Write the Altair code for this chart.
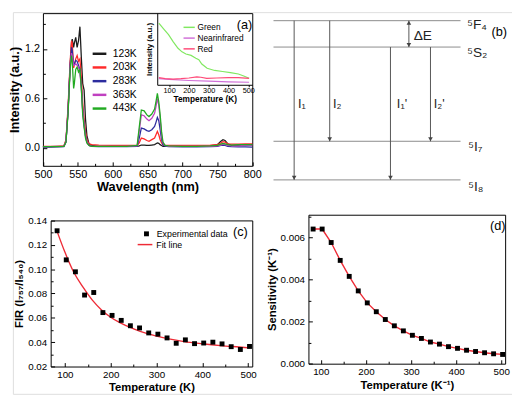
import altair as alt
import pandas as pd

W, H = 510, 390
FONT = "Liberation Sans"

# ---------------- panel (a): emission spectra ----------------
wavelength = [500, 510, 520, 530, 533, 536, 539, 541, 542, 544, 545, 547, 549, 551,
              553, 555, 557, 559, 561, 563, 566, 570, 580, 600, 620, 635, 638, 641,
              645, 649, 652, 656, 660, 662, 664, 666, 668, 670, 672, 675, 680, 700,
              720, 740, 750, 755, 758, 761, 765, 770, 780, 790, 800]
spec_123K = [0.015, 0.015, 0.02, 0.02, 0.08, 0.45, 1.00, 1.28, 1.32, 1.22, 1.27, 1.34, 1.22, 1.30,
             1.47, 1.10, 0.78, 0.70, 0.35, 0.15, 0.05, 0.03, 0.02, 0.02, 0.02, 0.02, 0.025, 0.035,
             0.035, 0.03, 0.03, 0.035, 0.04, 0.05, 0.06, 0.055, 0.04, 0.03, 0.02, 0.02, 0.02, 0.02,
             0.02, 0.025, 0.04, 0.08, 0.10, 0.09, 0.05, 0.03, 0.03, 0.03, 0.03]
spec_203K = [0.02, 0.02, 0.02, 0.025, 0.10, 0.50, 1.05, 1.30, 1.27, 0.97, 1.00, 1.08, 1.12, 1.05,
             1.08, 0.86, 0.55, 0.35, 0.20, 0.10, 0.05, 0.04, 0.035, 0.03, 0.03, 0.03, 0.06, 0.12,
             0.11, 0.09, 0.08, 0.10, 0.12, 0.16, 0.20, 0.16, 0.10, 0.06, 0.04, 0.03, 0.03, 0.03,
             0.03, 0.035, 0.04, 0.06, 0.075, 0.07, 0.05, 0.045, 0.045, 0.05, 0.05]
spec_283K = [0.01, 0.01, 0.012, 0.015, 0.07, 0.45, 1.00, 1.22, 1.18, 1.00, 1.02, 1.06, 1.05, 1.00,
             0.95, 0.75, 0.45, 0.28, 0.15, 0.07, 0.03, 0.02, 0.015, 0.015, 0.015, 0.02, 0.12, 0.24,
             0.23, 0.21, 0.20, 0.22, 0.26, 0.31, 0.37, 0.33, 0.22, 0.10, 0.04, 0.02, 0.015, 0.012,
             0.012, 0.015, 0.02, 0.03, 0.035, 0.03, 0.02, 0.015, 0.012, 0.012, 0.01]
spec_363K = [0.015, 0.015, 0.015, 0.02, 0.08, 0.45, 0.98, 1.15, 1.12, 1.00, 1.00, 1.02, 1.00, 0.98,
             0.92, 0.72, 0.45, 0.27, 0.14, 0.07, 0.03, 0.02, 0.02, 0.02, 0.02, 0.025, 0.20, 0.40,
             0.39, 0.35, 0.33, 0.36, 0.42, 0.50, 0.60, 0.52, 0.35, 0.15, 0.06, 0.03, 0.02, 0.02,
             0.02, 0.02, 0.025, 0.035, 0.045, 0.04, 0.03, 0.025, 0.025, 0.03, 0.03]
spec_443K = [0.015, 0.015, 0.015, 0.02, 0.07, 0.42, 0.95, 1.12, 1.05, 0.72, 0.78, 0.95, 0.98, 0.92,
             0.95, 0.72, 0.40, 0.25, 0.12, 0.06, 0.03, 0.02, 0.02, 0.02, 0.02, 0.03, 0.25, 0.46,
             0.45, 0.40, 0.38, 0.41, 0.47, 0.56, 0.66, 0.56, 0.40, 0.20, 0.07, 0.03, 0.025, 0.02,
             0.02, 0.025, 0.03, 0.045, 0.055, 0.05, 0.04, 0.035, 0.04, 0.04, 0.04]
series_names = ["123K", "203K", "283K", "363K", "443K"]
series_colors = ["#1c1c1c", "#ff2a2a", "#2c2c9e", "#c040c0", "#22aa22"]

# inset of panel (a)
inset_names = ["Green", "Nearinfrared", "Red"]
inset_colors = ["#80e860", "#d070d8", "#ff4a78"]
green_T = [48, 72, 97, 121, 145, 165, 185, 211, 235, 250, 265, 292, 330, 370, 410, 450, 480, 504]
green_I = [0.86, 0.78, 0.70, 0.60, 0.51, 0.46, 0.43, 0.41, 0.37, 0.35, 0.29, 0.23, 0.20, 0.185,
           0.17, 0.15, 0.12, 0.09]
nir_T = [48, 100, 200, 300, 400, 504]
nir_I = [0.085, 0.075, 0.06, 0.05, 0.04, 0.035]
red_T = [48, 80, 120, 160, 200, 240, 260, 290, 340, 400, 450, 504]
red_I = [0.10, 0.085, 0.08, 0.085, 0.095, 0.11, 0.105, 0.09, 0.095, 0.10, 0.10, 0.09]

# ---------------- panel (b): energy level diagram ----------------
level_names = ["\u2075F\u2084", "\u2075S\u2082", "\u2075I\u2087", "\u2075I\u2088"]
level_energy = [169, 141, 41, 0]
level_start = [0, 0, 0, 0]
level_end = [193, 193, 193, 193]
level_label_x = [200, 200, 201, 201]
level_label_E = [164, 135, 35, -8]
arrow_names = ["I\u2081", "I\u2082", "I\u2081'", "I\u2082'"]
arrow_x = [21.3, 58, 120.7, 162]
arrow_from = [169, 169, 141, 141]
arrow_to = [0, 41, 0, 41]
arrow_label_x = [25.3, 61.3, 127.3, 165.3]
arrow_label_E = [81, 81, 81, 81]
gap_x = 139.7
gap_label_x = 144.7
gap_label_E = 153

# ---------------- panels (c) and (d) ----------------
temps = [83, 103, 123, 143, 163, 183, 203, 223, 243, 263, 283, 303, 323, 343, 363, 383,
         403, 423, 443, 463, 483, 503]
fir = [0.1315, 0.1076, 0.0978, 0.0787, 0.0808, 0.0643, 0.0620, 0.0579, 0.0535, 0.0517,
       0.0476, 0.0466, 0.0435, 0.0391, 0.0419, 0.0388, 0.0393, 0.0400, 0.0386, 0.0363,
       0.0340, 0.0365]
fit_T = [83, 100, 120, 140, 160, 180, 200, 220, 250, 280, 300, 330, 360, 400, 440, 480, 503]
fit_fir = [0.131, 0.114, 0.097, 0.085, 0.0745, 0.0665, 0.0605, 0.056, 0.051, 0.047, 0.045,
           0.0425, 0.0405, 0.0387, 0.0372, 0.036, 0.0353]
sensitivity = [0.0064, 0.0064, 0.00576, 0.00491, 0.00415, 0.00346, 0.00289, 0.00247, 0.00210,
               0.00180, 0.00156, 0.00135, 0.00120, 0.00103, 0.00093, 0.00081, 0.00073,
               0.00064, 0.00058, 0.00052, 0.00047, 0.00044]

# tick positions
a_xticks = [500, 550, 600, 650, 700, 750, 800]
a_xminor = [525, 575, 625, 675, 725, 775]
a_yticks = [0, 0.6, 1.2]
a_yminor = [0.3, 0.9, 1.5]
t_ticks = [100, 200, 300, 400, 500]
t_minor = [150, 250, 350, 450]
c_yticks = [0.02, 0.04, 0.06, 0.08, 0.10, 0.12, 0.14]
c_yminor = [0.03, 0.05, 0.07, 0.09, 0.11, 0.13]
d_yticks = [0, 0.002, 0.004, 0.006]
d_yminor = [0.001, 0.003, 0.005, 0.007]

# ---------------- tables ----------------
spec_df = pd.DataFrame([
    {"wavelength": w, "intensity": v, "series": n}
    for n, vals in zip(series_names, [spec_123K, spec_203K, spec_283K, spec_363K, spec_443K])
    for w, v in zip(wavelength, vals)
])
inset_df = pd.DataFrame(
    [{"T": t, "I": v, "band": "Green"} for t, v in zip(green_T, green_I)]
    + [{"T": t, "I": v, "band": "Nearinfrared"} for t, v in zip(nir_T, nir_I)]
    + [{"T": t, "I": v, "band": "Red"} for t, v in zip(red_T, red_I)]
)
levels_df = pd.DataFrame({"name": level_names, "E": level_energy, "x0": level_start,
                          "x1": level_end})
arrows_df = pd.DataFrame({"name": arrow_names, "x": arrow_x, "E0": arrow_from, "E1": arrow_to})
gap_df = pd.DataFrame({"x": [gap_x], "E0": [level_energy[1]], "E1": [level_energy[0]]})
HEAD = 2.2
heads_df = pd.DataFrame({
    "x": arrow_x + [gap_x, gap_x],
    "E": [e + HEAD for e in arrow_to] + [level_energy[1] + HEAD, level_energy[0] - HEAD],
    "shape": ["triangle-down"] * 4 + ["triangle-down", "triangle-up"],
})
blabels_df = pd.DataFrame({
    "t": level_names + arrow_names + ["\u0394E"],
    "x": level_label_x + arrow_label_x + [gap_label_x],
    "E": level_label_E + arrow_label_E + [gap_label_E],
    "size": [14] * 4 + [13] * 4 + [14],
})
fir_df = pd.DataFrame({"T": temps, "FIR": fir, "kind": "Experimental data"})
fit_df = pd.DataFrame({"T": fit_T, "FIR": fit_fir, "kind": "Fit line"})
sens_df = pd.DataFrame({"T": temps, "S": sensitivity})


def sc(domain, rng):
    return alt.Scale(domain=domain, range=rng, nice=False, zero=False)


def ax(orient, offset, **kw):
    base = dict(orient=orient, offset=offset, grid=False, domainColor="black",
                ticks=False, tickSize=0,
                labelColor="black", titleColor="black",
                labelFont=FONT, titleFont=FONT, titleFontWeight="bold",
                labelFlush=False, labelOverlap=False, domainWidth=1)
    base.update(kw)
    return alt.Axis(**base)


def frame(orient, offset):
    return alt.Axis(orient=orient, offset=offset, labels=False, ticks=False, title=None,
                    grid=False, domainColor="black", domainWidth=1)


def inward(orient, offset, values, size):
    return alt.Axis(orient=orient, offset=offset, values=values, labels=False, domain=False,
                    title=None, grid=False, ticks=True, tickSize=size, tickColor="black",
                    tickWidth=1)


# ---------------- panel geometry (plot coordinates) ----------------
A_x, A_y = [30.7, 244.6], [157.0, 1.0]
I_x, I_y = [147.5, 244.6], [74.2, 1.0]
B_x, B_y = [266.3, 457.4], [171.4, 8.7]
C_x, C_y = [38.6, 244.6], [362.1, 212.8]
D_x, D_y = [302.0, 503.0], [359.2, 207.0]

xA = sc([500, 800], A_x)
yA = sc([-0.217, 1.634], A_y)
xI = sc([40, 520], I_x)
yI = sc([0, 1], I_y)
xB = sc([0, 193], B_x)
yB = sc([0, 169], B_y)
xC = sc([69, 509], C_x)
yC = sc([0.02, 0.14], C_y)
xD = sc([72.6, 508.6], D_x)
yD = sc([0, 0.00708], D_y)


def tick_layers(df, xf, yf, xs, ys, px, py, xmaj, xmin, ymaj, ymin):
    """Inward major and minor ticks of a framed panel."""
    major = alt.Chart(df).mark_point(opacity=0).encode(
        x=alt.X(xf, scale=xs, axis=inward("top", -py[0], xmaj, 4)),
        y=alt.Y(yf, scale=ys, axis=inward("right", px[0] - W, ymaj, 4)))
    minor = alt.Chart(df).mark_point(opacity=0).encode(
        x=alt.X(xf, scale=xs, axis=inward("top", -py[0], xmin, 2.5)),
        y=alt.Y(yf, scale=ys, axis=inward("right", px[0] - W, ymin, 2.5)))
    return [major, minor]


# ---- (a)
a_lines = alt.Chart(spec_df).mark_line(strokeWidth=1.3).encode(
    x=alt.X("wavelength:Q", scale=xA,
            axis=ax("bottom", -(H - A_y[0]), values=a_xticks,
                    title="Wavelength (nm)", labelFontSize=11, titleFontSize=13,
                    labelPadding=3, titlePadding=1)),
    y=alt.Y("intensity:Q", scale=yA,
            axis=ax("left", -A_x[0], values=a_yticks, format=".1f",
                    title="Intensity (a.u.)", labelFontSize=11, titleFontSize=13,
                    labelPadding=3.5, titlePadding=3)),
    color=alt.Color("series:N", scale=alt.Scale(domain=series_names, range=series_colors),
                    legend=alt.Legend(title=None, orient="none", legendX=80, legendY=34,
                                      symbolType="stroke", symbolSize=196, symbolStrokeWidth=2.5,
                                      labelFontSize=10.5, labelFont=FONT, labelOffset=5,
                                      rowPadding=-3.5, padding=0, labelColor="black")),
)
a_frame = alt.Chart(spec_df[spec_df["series"] == "123K"]).mark_line(opacity=0).encode(
    x=alt.X("wavelength:Q", scale=xA, axis=frame("top", -A_y[1])),
    y=alt.Y("intensity:Q", scale=yA, axis=frame("right", -(W - A_x[1]))),
)
a_ticks = tick_layers(spec_df, "wavelength:Q", "intensity:Q", xA, yA, A_x, A_y,
                      a_xticks, a_xminor, a_yticks, a_yminor)
a_inset = alt.Chart(inset_df).mark_line(strokeWidth=1.2).encode(
    x=alt.X("T:Q", scale=xI,
            axis=ax("bottom", -(H - I_y[0]), values=t_ticks, ticks=True, tickSize=2,
                    tickColor="black", title="Temperature (K)", labelFontSize=7.5,
                    titleFontSize=8.5, labelPadding=0, titlePadding=1)),
    y=alt.Y("I:Q", scale=yI,
            axis=ax("left", -I_x[0], labels=False, title="Intensity (a.u.)",
                    titleFontSize=8, titlePadding=4)),
    color=alt.Color("band:N", scale=alt.Scale(domain=inset_names, range=inset_colors),
                    legend=alt.Legend(title=None, orient="none", legendX=173.6, legendY=9,
                                      symbolType="stroke", symbolSize=132, symbolStrokeWidth=1.5,
                                      labelFontSize=8.5, labelFont=FONT, labelOffset=2,
                                      rowPadding=-2.5, padding=0, labelColor="black")),
)
a_tag = alt.Chart(pd.DataFrame({"t": ["(a)"], "T": [481], "I": [0.84]})).mark_text(
    fontSize=13, font=FONT, color="black").encode(
    x=alt.X("T:Q", scale=xI, axis=None), y=alt.Y("I:Q", scale=yI, axis=None), text="t:N")

# ---- (b)
b_levels = alt.Chart(levels_df).mark_rule(color="#8a8a8a", strokeWidth=1).encode(
    x=alt.X("x0:Q", scale=xB, axis=None), x2="x1:Q",
    y=alt.Y("E:Q", scale=yB, axis=None))
b_arrows = alt.Chart(arrows_df).mark_rule(color="#555555", strokeWidth=1).encode(
    x=alt.X("x:Q", scale=xB, axis=None),
    y=alt.Y("E0:Q", scale=yB, axis=None), y2="E1:Q")
b_gap = alt.Chart(gap_df).mark_rule(color="#555555", strokeWidth=1).encode(
    x=alt.X("x:Q", scale=xB, axis=None),
    y=alt.Y("E0:Q", scale=yB, axis=None), y2="E1:Q")
b_heads = alt.Chart(heads_df).mark_point(filled=True, size=22, color="#444444", opacity=1).encode(
    x=alt.X("x:Q", scale=xB, axis=None),
    y=alt.Y("E:Q", scale=yB, axis=None),
    shape=alt.Shape("shape:N", scale=None))
b_text = alt.Chart(blabels_df).mark_text(font=FONT, align="left", baseline="middle",
                                         color="#222222").encode(
    x=alt.X("x:Q", scale=xB, axis=None),
    y=alt.Y("E:Q", scale=yB, axis=None),
    text="t:N", size=alt.Size("size:Q", scale=None))
b_tag = alt.Chart(pd.DataFrame({"t": ["(b)"], "x": [225], "E": [157]})).mark_text(
    fontSize=13, font=FONT, align="left", color="black").encode(
    x=alt.X("x:Q", scale=xB, axis=None), y=alt.Y("E:Q", scale=yB, axis=None), text="t:N")

# ---- (c)
c_fit = alt.Chart(fit_df).mark_line(strokeWidth=1.4, interpolate="monotone").encode(
    x=alt.X("T:Q", scale=xC, axis=frame("top", -C_y[1])),
    y=alt.Y("FIR:Q", scale=yC, axis=frame("right", -(W - C_x[1]))),
    color=alt.Color("kind:N", scale=alt.Scale(domain=["Fit line"], range=["#ee2b36"]),
                    legend=alt.Legend(title=None, orient="none", legendX=126.5, legendY=229,
                                      symbolType="stroke", symbolSize=225, symbolStrokeWidth=1.5,
                                      labelFontSize=9, labelFont=FONT, labelOffset=3,
                                      padding=0, labelColor="black")),
)
c_ticks = tick_layers(fir_df, "T:Q", "FIR:Q", xC, yC, C_x, C_y,
                      t_ticks, t_minor, c_yticks, c_yminor)
c_pts = alt.Chart(fir_df).mark_point(shape="square", filled=True, size=25, opacity=1).encode(
    x=alt.X("T:Q", scale=xC,
            axis=ax("bottom", -(H - C_y[0]), values=t_ticks,
                    title="Temperature (K)", labelFontSize=10, titleFontSize=11.5,
                    labelPadding=3, titlePadding=3)),
    y=alt.Y("FIR:Q", scale=yC,
            axis=ax("left", -C_x[0], values=c_yticks,
                    format=".2f", title="FIR (I\u2087\u2085\u2087/I\u2085\u2084\u2080)",
                    labelFontSize=10, titleFontSize=11.5, labelPadding=4, titlePadding=3)),
    color=alt.Color("kind:N", scale=alt.Scale(domain=["Experimental data"], range=["black"]),
                    legend=alt.Legend(title=None, orient="none", legendX=132, legendY=222,
                                      symbolType="square", symbolSize=25,
                                      labelFontSize=9, labelFont=FONT, labelOffset=6,
                                      padding=0, labelColor="black")),
)
c_tag = alt.Chart(pd.DataFrame({"t": ["(c)"], "T": [483], "F": [0.1305]})).mark_text(
    fontSize=13, font=FONT, color="black").encode(
    x=alt.X("T:Q", scale=xC, axis=None), y=alt.Y("F:Q", scale=yC, axis=None), text="t:N")

# ---- (d)
d_line = alt.Chart(sens_df).mark_line(strokeWidth=1.4, color="#ee2b36").encode(
    x=alt.X("T:Q", scale=xD, axis=frame("top", -D_y[1])),
    y=alt.Y("S:Q", scale=yD, axis=frame("right", -(W - D_x[1]))),
)
d_ticks = tick_layers(sens_df, "T:Q", "S:Q", xD, yD, D_x, D_y,
                      t_ticks, t_minor, d_yticks, d_yminor)
d_pts = alt.Chart(sens_df).mark_point(shape="square", filled=True, size=25, opacity=1,
                                      color="black").encode(
    x=alt.X("T:Q", scale=xD,
            axis=ax("bottom", -(H - D_y[0]), values=t_ticks,
                    title="Temperature (K\u207b\u00b9)", labelFontSize=10, titleFontSize=11.5,
                    labelPadding=3, titlePadding=3)),
    y=alt.Y("S:Q", scale=yD,
            axis=ax("left", -D_x[0], values=d_yticks, format=".3f",
                    title="Sensitivity (K\u207b\u00b9)", labelFontSize=10, titleFontSize=11.5,
                    labelPadding=4, titlePadding=3)),
)
d_tag = alt.Chart(pd.DataFrame({"t": ["(d)"], "T": [492], "S": [0.00655]})).mark_text(
    fontSize=13, font=FONT, color="black").encode(
    x=alt.X("T:Q", scale=xD, axis=None), y=alt.Y("S:Q", scale=yD, axis=None), text="t:N")

chart = alt.layer(
    a_lines, a_frame, *a_ticks, a_inset, a_tag,
    b_levels, b_arrows, b_gap, b_heads, b_text, b_tag,
    c_fit, *c_ticks, c_pts, c_tag,
    d_line, *d_ticks, d_pts, d_tag,
).resolve_scale(
    x="independent", y="independent", color="independent", shape="independent", size="independent"
).properties(
    width=W, height=H, padding=0
).configure_view(
    stroke=None
).configure(
    font=FONT
)

chart.save("out.html", embed_options={"renderer": "svg", "actions": False})
